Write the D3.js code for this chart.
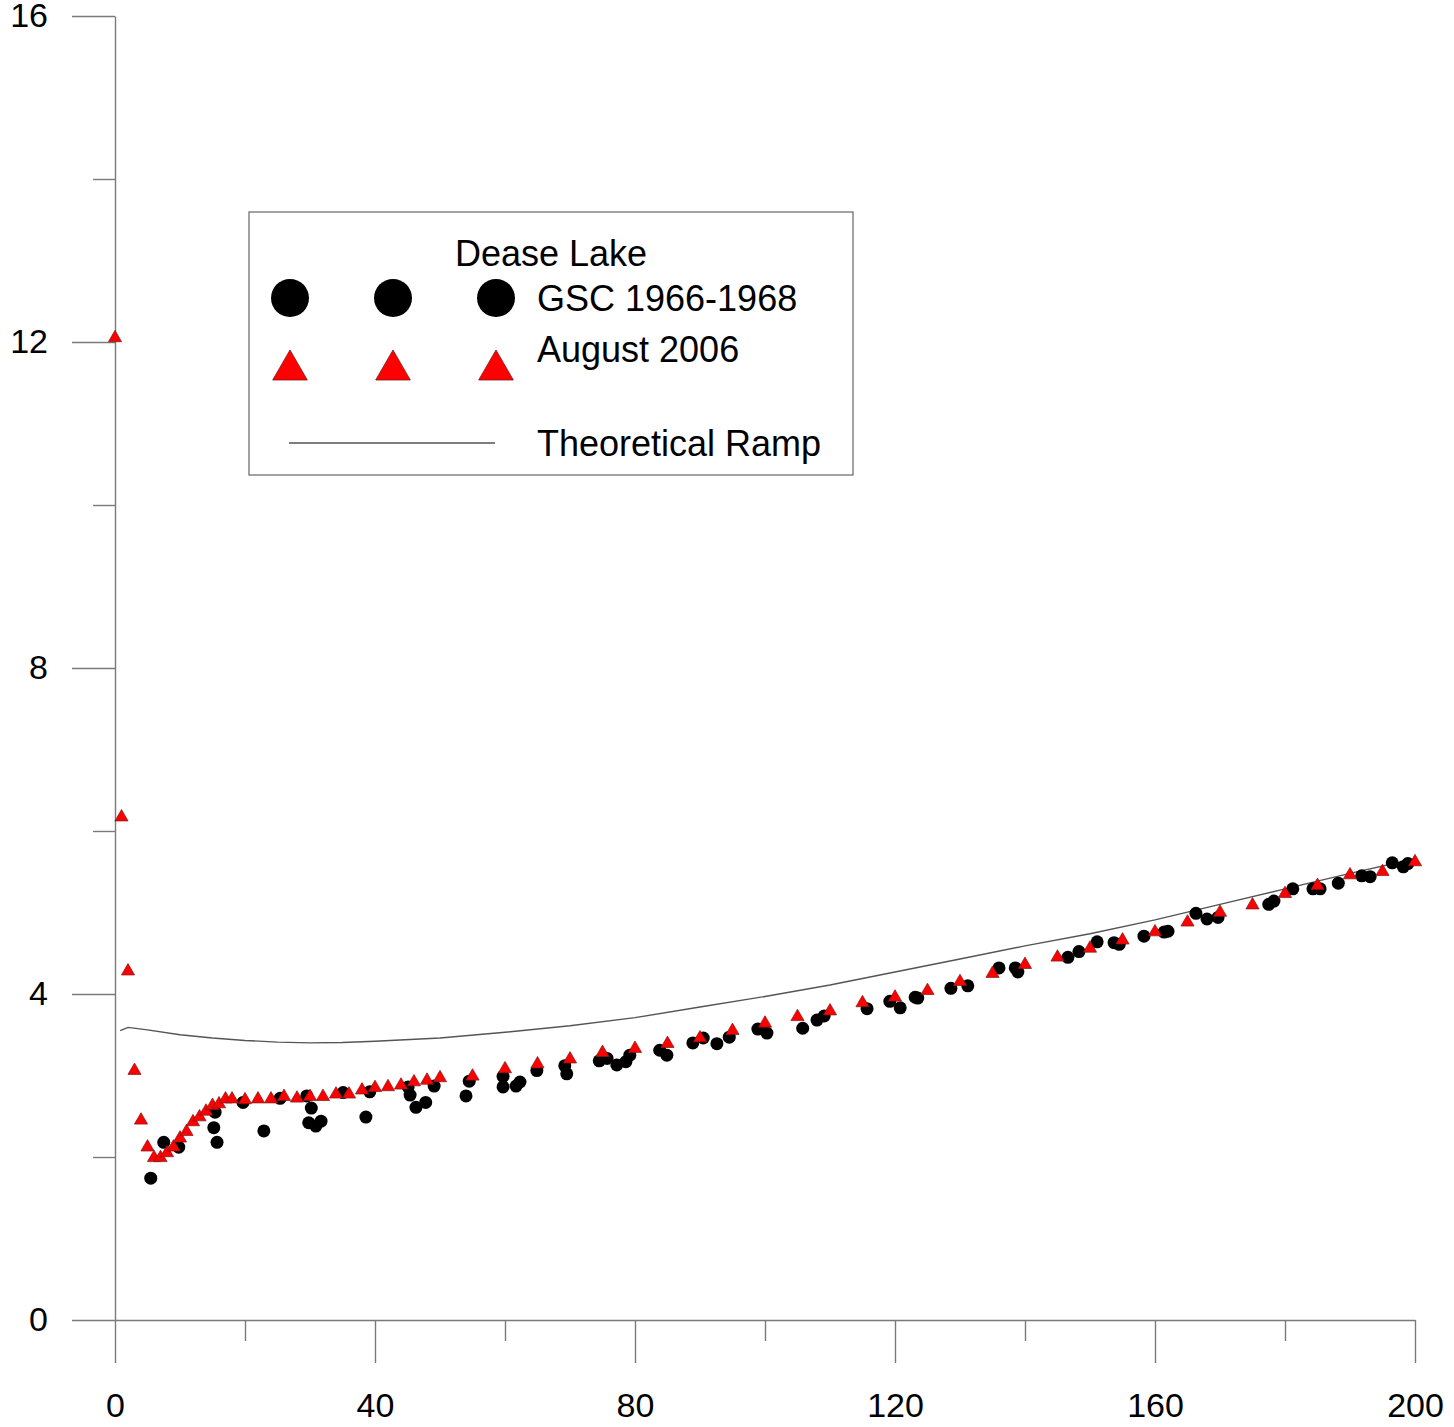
<!DOCTYPE html>
<html>
<head>
<meta charset="utf-8">
<script src="https://cdn.jsdelivr.net/npm/d3@7"></script>
<style>
  body { margin: 0; background: #fff; }
  text { font-family: "Liberation Sans", Arial, sans-serif; }
</style>
</head>
<body>
<script>
// GSC 1966-1968 (black circles)
var gscX = [5.5, 7.5, 9.8, 15.2, 15.4, 15.7, 19.7, 22.9, 25.4,
  29.5, 30.2, 29.8, 30.9, 31.7, 35.1, 38.6, 39.2, 45.1, 45.4, 46.3, 47.8, 49.1, 54.0, 54.5,
  59.7, 59.7, 61.7, 62.3, 64.9, 69.2, 69.5, 74.5, 75.7, 77.2, 78.6, 79.2, 83.8, 84.9, 88.9,
  90.5, 92.6, 94.5, 98.9, 100.3, 105.8, 108.0, 109.1, 115.7, 119.2, 120.8, 123.1, 123.5, 128.6, 131.2,
  136.0, 138.5, 138.9, 146.6, 148.3, 151.1, 153.7, 154.5, 158.3, 161.4, 162.0, 166.3, 168.0, 169.7,
  177.5, 178.3, 181.2, 184.3, 185.4, 188.2, 191.8, 193.1, 196.5, 198.2, 198.9]
var gscY = [1.74, 2.18, 2.12, 2.36, 2.55, 2.18, 2.67, 2.32, 2.72,
  2.75, 2.60, 2.42, 2.38, 2.44, 2.79, 2.49, 2.80, 2.86, 2.76, 2.61, 2.67, 2.87, 2.75, 2.93,
  2.86, 2.99, 2.87, 2.92, 3.06, 3.12, 3.02, 3.18, 3.21, 3.13, 3.17, 3.25, 3.31, 3.25, 3.40,
  3.46, 3.39, 3.47, 3.57, 3.52, 3.58, 3.68, 3.73, 3.82, 3.91, 3.83, 3.96, 3.95, 4.07, 4.10,
  4.32, 4.32, 4.27, 4.45, 4.52, 4.64, 4.63, 4.61, 4.71, 4.76, 4.77, 4.99, 4.92, 4.94,
  5.10, 5.14, 5.29, 5.29, 5.29, 5.36, 5.45, 5.44, 5.61, 5.56, 5.60]

// August 2006 (red triangles)
var augX = [0, 1, 2, 3, 4, 5, 6, 7, 8, 9, 10, 11, 12, 13, 14, 15, 16, 17, 18,
  20, 22, 24, 26, 28, 30, 32, 34, 36, 38, 40, 42, 44, 46, 48, 50,
  55, 60, 65, 70, 75, 80, 85, 90, 95, 100, 105, 110, 115, 120, 125, 130,
  135, 140, 145, 150, 155, 160, 165, 170, 175, 180, 185, 190, 195, 200]
var augY = [12.05, 6.17, 4.28, 3.06, 2.45, 2.12, 1.99, 1.99, 2.05, 2.12, 2.23, 2.31, 2.43, 2.49, 2.56, 2.63, 2.65, 2.71, 2.71,
  2.70, 2.71, 2.71, 2.74, 2.72, 2.74, 2.74, 2.77, 2.77, 2.82, 2.85, 2.86, 2.88, 2.92, 2.94, 2.97,
  2.99, 3.08, 3.14, 3.20, 3.28, 3.33, 3.39, 3.46, 3.55, 3.64, 3.72, 3.79, 3.89, 3.96, 4.04, 4.15,
  4.25, 4.36, 4.45, 4.56, 4.66, 4.76, 4.88, 5.00, 5.09, 5.23, 5.33, 5.46, 5.50, 5.62]

// Theoretical Ramp (line)
var rampX = [0.8, 2, 5, 10, 15, 20, 25, 30, 35, 40, 50, 60, 70, 80, 90, 100, 110, 120, 130, 140, 150, 160, 170, 180, 190, 200]
var rampY = [3.55, 3.59, 3.56, 3.50, 3.46, 3.43, 3.41, 3.40, 3.405, 3.42, 3.46, 3.53, 3.61, 3.71, 3.84, 3.97, 4.11, 4.27, 4.43, 4.59, 4.74, 4.91, 5.10, 5.29, 5.48, 5.66]

var yMajor = [0, 4, 8, 12, 16]
var yMinor = [2, 6, 10, 14]
var xMajor = [0, 40, 80, 120, 160, 200]
var xMinor = [20, 60, 100, 140, 180]

var width = 1454, height = 1427
var svg = d3.select("body").append("svg")
  .attr("width", width)
  .attr("height", height)

var x = d3.scaleLinear().domain([0, 200]).range([115, 1415])
var y = d3.scaleLinear().domain([0, 16]).range([1320, 16])

var axisColor = "#7a7a7a"

// y axis
var gy = svg.append("g").attr("transform", "translate(115,0)")
gy.call(d3.axisLeft(y).tickValues(yMajor).tickSize(43).tickSizeOuter(0).tickPadding(24).tickFormat(d3.format("d")))
gy.append("g").call(d3.axisLeft(y).tickValues(yMinor).tickSize(22).tickSizeOuter(0).tickFormat(""))
  .select(".domain").remove()

// x axis
var gx = svg.append("g").attr("transform", "translate(0,1320)")
gx.call(d3.axisBottom(x).tickValues(xMajor).tickSize(43).tickSizeOuter(0).tickPadding(30).tickFormat(d3.format("d")))
gx.append("g").call(d3.axisBottom(x).tickValues(xMinor).tickSize(21).tickSizeOuter(0).tickFormat(""))
  .select(".domain").remove()

svg.selectAll(".domain, .tick line")
  .attr("stroke", axisColor)
  .attr("stroke-width", 1.4)
svg.selectAll(".tick text")
  .attr("fill", "#000")
  .style("font-size", "34px")
  .style("font-family", "'Liberation Sans', Arial, sans-serif")

// line
var line = d3.line().x(d => x(d[0])).y(d => y(d[1]))
svg.append("path")
  .datum(rampX.map((v, i) => [v, rampY[i]]))
  .attr("d", line)
  .attr("fill", "none")
  .attr("stroke", "#555")
  .attr("stroke-width", 1.4)

// circles
svg.append("g").selectAll("circle")
  .data(gscX.map((v, i) => [v, gscY[i]]))
  .enter()
  .append("circle")
  .attr("cx", d => x(d[0]))
  .attr("cy", d => y(d[1]))
  .attr("r", 6.5)
  .attr("fill", "#000")

// triangles
var tri = d3.symbol().type(d3.symbolTriangle).size(75)
svg.append("g").selectAll("path")
  .data(augX.map((v, i) => [v, augY[i]]))
  .enter()
  .append("path")
  .attr("d", tri)
  .attr("transform", d => "translate(" + x(d[0]) + "," + y(d[1]) + ")")
  .attr("fill", "#f00")
  .attr("stroke", "#7a1a1a")
  .attr("stroke-width", 0.7)

// legend
var lg = svg.append("g")
lg.append("rect")
  .attr("x", 249).attr("y", 212)
  .attr("width", 604).attr("height", 263)
  .attr("fill", "#fff")
  .attr("stroke", "#666")
  .attr("stroke-width", 1.2)

lg.append("text").attr("x", 455).attr("y", 266).style("font-size", "36px").text("Dease Lake")

var legX = [290, 393, 496]
legX.forEach(function(cx) {
  lg.append("circle").attr("cx", cx).attr("cy", 298).attr("r", 19).attr("fill", "#000")
  lg.append("path")
    .attr("d", d3.symbol().type(d3.symbolTriangle).size(520)())
    .attr("transform", "translate(" + cx + "," + 370 + ")")
    .attr("fill", "#f00")
    .attr("stroke", "#7a1a1a")
    .attr("stroke-width", 0.8)
})
lg.append("text").attr("x", 537).attr("y", 311).style("font-size", "36px").text("GSC 1966-1968")
lg.append("text").attr("x", 537).attr("y", 362).style("font-size", "36px").text("August 2006")
lg.append("line")
  .attr("x1", 289).attr("x2", 495)
  .attr("y1", 443).attr("y2", 443)
  .attr("stroke", "#555").attr("stroke-width", 1.4)
lg.append("text").attr("x", 537).attr("y", 456).style("font-size", "36px").text("Theoretical Ramp")
</script>
</body>
</html>
